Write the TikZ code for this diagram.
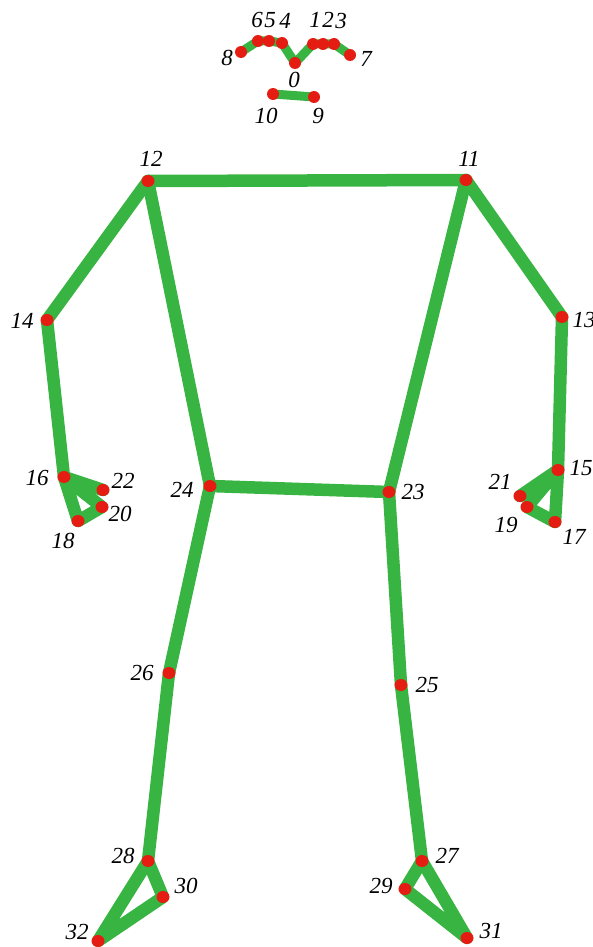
\documentclass[tikz,border=0pt]{standalone}
\usepackage{fontspec}
\usetikzlibrary{shapes.geometric}
\setmainfont{Liberation Serif}[ItalicFont=Liberation Serif Italic]
\begin{document}
\begin{tikzpicture}[x=1pt,y=-1pt,
  bone/.style={draw=limb,line width=12.5pt,line cap=round,line join=round},
  facebone/.style={draw=limb,line width=9pt,line cap=round,line join=round},
  jt/.style={ellipse,fill=jointred,inner sep=0pt,minimum width=13pt,minimum height=12pt},
  fjt/.style={circle,fill=jointred,inner sep=0pt,minimum size=12pt},
  lbl/.style={font=\fontsize{23}{23}\selectfont\itshape,inner sep=0pt}]
\definecolor{limb}{RGB}{55,180,65}
\definecolor{jointred}{RGB}{228,28,18}
\useasboundingbox (0,0) rectangle (593,947);
% face
\coordinate (p8) at (241,52);
\coordinate (p6) at (258,41);
\coordinate (p5) at (269,41);
\coordinate (p4) at (282,43);
\coordinate (p0) at (295,63);
\coordinate (p1) at (313,44);
\coordinate (p2) at (323,44);
\coordinate (p3) at (334,44);
\coordinate (p7) at (350,55);
\coordinate (p10) at (273,94);
\coordinate (p9) at (314,97);
% body
\coordinate (p12) at (148,181);
\coordinate (p11) at (466,180);
\coordinate (p14) at (47,320);
\coordinate (p13) at (562,317);
\coordinate (p16) at (64,477);
\coordinate (p22) at (103,490);
\coordinate (p20) at (102,507);
\coordinate (p18) at (78,521);
\coordinate (p15) at (558,470);
\coordinate (p21) at (520,496);
\coordinate (p19) at (527,507);
\coordinate (p17) at (555,522);
\coordinate (p24) at (210,486);
\coordinate (p23) at (389,492);
\coordinate (p26) at (169,673);
\coordinate (p25) at (401,685);
\coordinate (p28) at (148,861);
\coordinate (p30) at (163,897);
\coordinate (p32) at (98,941);
\coordinate (p27) at (422,861);
\coordinate (p29) at (405,889);
\coordinate (p31) at (467,938);
% face connectors
\draw[facebone] (p8) -- (p6) -- (p5) -- (p4) -- (p0) -- (p1) -- (p2) -- (p3) -- (p7);
\draw[facebone] (p10) -- (p9);
% body connectors
\draw[bone] (p12) -- (p11);
\draw[bone] (p12) -- (p14) -- (p16);
\draw[bone] (p16) -- (p18) -- (p20) -- (p16);
\draw[bone] (p16) -- (p22);
\draw[bone] (p11) -- (p13) -- (p15);
\draw[bone] (p15) -- (p17) -- (p19) -- (p15);
\draw[bone] (p15) -- (p21);
\draw[bone] (p12) -- (p24) -- (p23) -- (p11);
\draw[bone] (p24) -- (p26) -- (p28) -- (p30) -- (p32) -- (p28);
\draw[bone] (p23) -- (p25) -- (p27) -- (p29) -- (p31) -- (p27);
% joints
\foreach \p in {8,6,5,4,0,1,2,3,7,10,9}
  \node[fjt] (j\p) at (p\p) {};
\foreach \p in {12,11,14,13,16,22,20,18,15,21,19,17,24,23,26,25,28,30,32,27,29,31}
  \node[jt] (j\p) at (p\p) {};
% labels
\node[lbl] (l6) at (257,20) {6};
\node[lbl] (l5) at (270,20) {5};
\node[lbl] (l4) at (285,21) {4};
\node[lbl] (l1) at (315,20) {1};
\node[lbl] (l2) at (328,20) {2};
\node[lbl] (l3) at (341,21) {3};
\node[lbl] (l8) at (227,58) {8};
\node[lbl] (l7) at (366,59) {7};
\node[lbl] (l0) at (294,80) {0};
\node[lbl] (l10) at (266,116) {10};
\node[lbl] (l9) at (318,116) {9};
\node[lbl] (l12) at (151,159) {12};
\node[lbl] (l11) at (469,159) {11};
\node[lbl] (l14) at (22,321) {14};
\node[lbl] (l13) at (584,320) {13};
\node[lbl] (l16) at (37,478) {16};
\node[lbl] (l22) at (123,481) {22};
\node[lbl] (l20) at (120,514) {20};
\node[lbl] (l18) at (63,541) {18};
\node[lbl] (l15) at (581,468) {15};
\node[lbl] (l21) at (500,482) {21};
\node[lbl] (l19) at (506,525) {19};
\node[lbl] (l17) at (574,537) {17};
\node[lbl] (l24) at (182,490) {24};
\node[lbl] (l23) at (413,492) {23};
\node[lbl] (l26) at (142,673) {26};
\node[lbl] (l25) at (427,685) {25};
\node[lbl] (l28) at (123,856) {28};
\node[lbl] (l30) at (186,886) {30};
\node[lbl] (l32) at (77,932) {32};
\node[lbl] (l27) at (447,856) {27};
\node[lbl] (l29) at (381,886) {29};
\node[lbl] (l31) at (491,931) {31};
\end{tikzpicture}
\end{document}
